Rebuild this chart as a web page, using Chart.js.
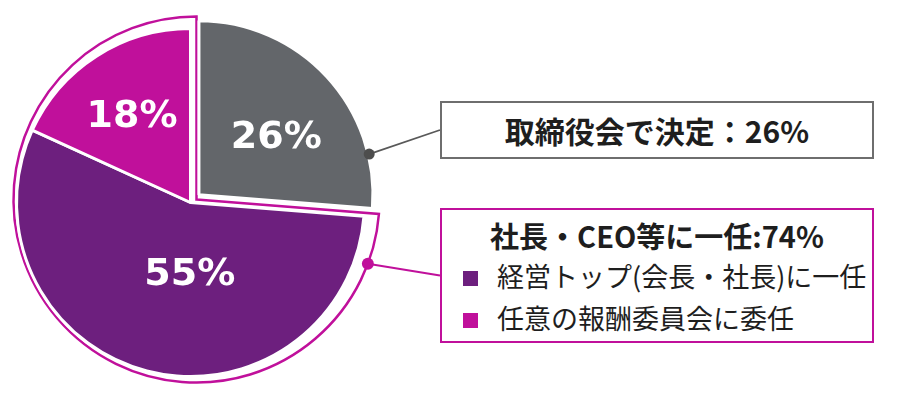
<!DOCTYPE html>
<html lang="ja">
<head>
<meta charset="utf-8">
<script src="https://cdn.jsdelivr.net/npm/chart.js@4.4.1/dist/chart.umd.min.js"></script>
<style>
  html, body { margin: 0; padding: 0; background: #fff; }
  #wrap { position: relative; width: 900px; height: 407px; overflow: hidden; }
  #pie { position: absolute; left: 0; top: 0; }
  .box { position: absolute; box-sizing: border-box; background: #fff; font-family: "Noto Sans CJK JP", "Noto Sans", sans-serif; color: #1e1e1e; }
  #box1 { left: 440px; top: 101px; width: 434px; height: 58px; border: 2px solid #6e6e6e;
          display: flex; align-items: center; justify-content: center; font-weight: 700; font-size: 30px; }
  #box2 { left: 440px; top: 208px; width: 434px; height: 135px; border: 2px solid #C0109B; }
  #box2 .title { position: absolute; left: 0; right: 0; top: 5px; height: 40px; line-height: 40px; text-align: center; font-weight: 700; font-size: 29px; }
  #box2 .row { position: absolute; left: 0; right: 0; height: 34px; line-height: 34px; font-size: 27px; }
  #box2 .sw { position: absolute; left: 21px; top: 12px; width: 15px; height: 15px; }
  #box2 .txt { position: absolute; left: 55px; top: 0; white-space: nowrap; }
</style>
</head>
<body>
<div id="wrap">
  <canvas id="pie" width="900" height="407"></canvas>
  <div class="box" id="box1"></div>
  <div class="box" id="box2"><div class="title"></div></div>
</div>
<script>
// ---- data ----
const categories = ['取締役会で決定', '経営トップ(会長・社長)に一任', '任意の報酬委員会に委任'];
const shares = [26, 55, 18];
const sliceColors = ['#63666A', '#6D1F7E', '#C0109B'];
const groupTitle = '社長・CEO等に一任';
const groupShare = 74;

// ---- HTML boxes built from data ----
document.getElementById('box1').textContent = categories[0] + '：' + shares[0] + '%';
const box2 = document.getElementById('box2');
box2.querySelector('.title').textContent = groupTitle + ':' + groupShare + '%';
[1, 2].forEach((idx, r) => {
  const row = document.createElement('div');
  row.className = 'row';
  row.style.top = (49 + r * 42) + 'px';
  const sw = document.createElement('div');
  sw.className = 'sw';
  sw.style.background = sliceColors[idx];
  const tx = document.createElement('div');
  tx.className = 'txt';
  tx.textContent = categories[idx];
  row.appendChild(sw); row.appendChild(tx);
  box2.appendChild(row);
});

// label placement inside slices (fraction of slice angle, fraction of radius)
const labelAngleFrac = [0.57, 0.43, 0.475];
const labelRadiusFrac = [0.55, 0.42, 0.595];
// outline around the "一任" group: shift of its centre and extra radius
const outlineShift = { x: 6, y: -3 };
const outlineExtra = 9;

function sliceShift(arc) {
  const mid = (arc.startAngle + arc.endAngle) / 2;
  const t = (arc.options.offset || 0) / 4;
  return { dx: Math.cos(mid) * t, dy: Math.sin(mid) * t };
}
function outlineGeom(g) {
  return { cx: g.x + outlineShift.x, cy: g.y + outlineShift.y, r: g.outerRadius + outlineExtra };
}

const decorPlugin = {
  id: 'decor',
  beforeDatasetsDraw(chart) {
    const ctx = chart.ctx;
    const arcs = chart.getDatasetMeta(0).data;
    const g = arcs[0], p = arcs[1], m = arcs[2];
    const o = outlineGeom(g);
    ctx.save();
    ctx.beginPath();
    ctx.moveTo(o.cx, o.cy);
    ctx.arc(o.cx, o.cy, o.r, p.startAngle, m.endAngle);
    ctx.closePath();
    ctx.lineWidth = 2.5;
    ctx.lineJoin = 'miter';
    ctx.strokeStyle = sliceColors[2];
    ctx.stroke();
    ctx.restore();
  },
  afterDatasetsDraw(chart) {
    const ctx = chart.ctx;
    const arcs = chart.getDatasetMeta(0).data;
    ctx.save();
    ctx.fillStyle = '#ffffff';
    ctx.font = 'bold 38px "DejaVu Sans"';
    ctx.textAlign = 'center';
    ctx.textBaseline = 'middle';
    arcs.forEach((a, i) => {
      const s = sliceShift(a);
      const ang = a.startAngle + labelAngleFrac[i] * (a.endAngle - a.startAngle);
      const r = a.outerRadius * labelRadiusFrac[i];
      ctx.fillText(shares[i] + '%', a.x + s.dx + Math.cos(ang) * r, a.y + s.dy + Math.sin(ang) * r);
    });
    ctx.restore();
  },
  afterDraw(chart) {
    const ctx = chart.ctx;
    const arcs = chart.getDatasetMeta(0).data;
    const g = arcs[0], p = arcs[1];
    const b1 = document.getElementById('box1');
    const b2 = document.getElementById('box2');
    ctx.save();
    // gray connector
    const s = sliceShift(g);
    const ga = g.startAngle + 0.81 * (g.endAngle - g.startAngle);
    const gx = g.x + s.dx + Math.cos(ga) * (g.outerRadius + 1);
    const gy = g.y + s.dy + Math.sin(ga) * (g.outerRadius + 1);
    ctx.strokeStyle = '#595959';
    ctx.lineWidth = 1.8;
    ctx.beginPath();
    ctx.moveTo(gx, gy);
    ctx.lineTo(b1.offsetLeft, b1.offsetTop + b1.offsetHeight / 2);
    ctx.stroke();
    ctx.fillStyle = '#4d4d4d';
    ctx.beginPath(); ctx.arc(gx, gy, 5.5, 0, Math.PI * 2); ctx.fill();
    // magenta connector
    const o = outlineGeom(g);
    const pa = p.startAngle + 0.08 * (p.endAngle - p.startAngle);
    const px = o.cx + Math.cos(pa) * o.r, py = o.cy + Math.sin(pa) * o.r;
    ctx.strokeStyle = sliceColors[2];
    ctx.lineWidth = 2;
    ctx.beginPath();
    ctx.moveTo(px, py);
    ctx.lineTo(b2.offsetLeft, b2.offsetTop + b2.offsetHeight / 2);
    ctx.stroke();
    ctx.fillStyle = sliceColors[2];
    ctx.beginPath(); ctx.arc(px, py, 6, 0, Math.PI * 2); ctx.fill();
    ctx.restore();
  }
};

new Chart(document.getElementById('pie'), {
  type: 'pie',
  data: {
    labels: categories,
    datasets: [{
      data: shares,
      backgroundColor: sliceColors,
      borderColor: '#ffffff',
      borderWidth: 3,
      offset: [46, 0, 0],
      hoverOffset: 0,
      radius: 174
    }]
  },
  options: {
    responsive: false,
    animation: false,
    events: [],
    layout: { padding: { left: 0, top: 0, right: 519, bottom: 2 } },
    plugins: { legend: { display: false }, tooltip: { enabled: false } }
  },
  plugins: [decorPlugin]
});
</script>
</body>
</html>
